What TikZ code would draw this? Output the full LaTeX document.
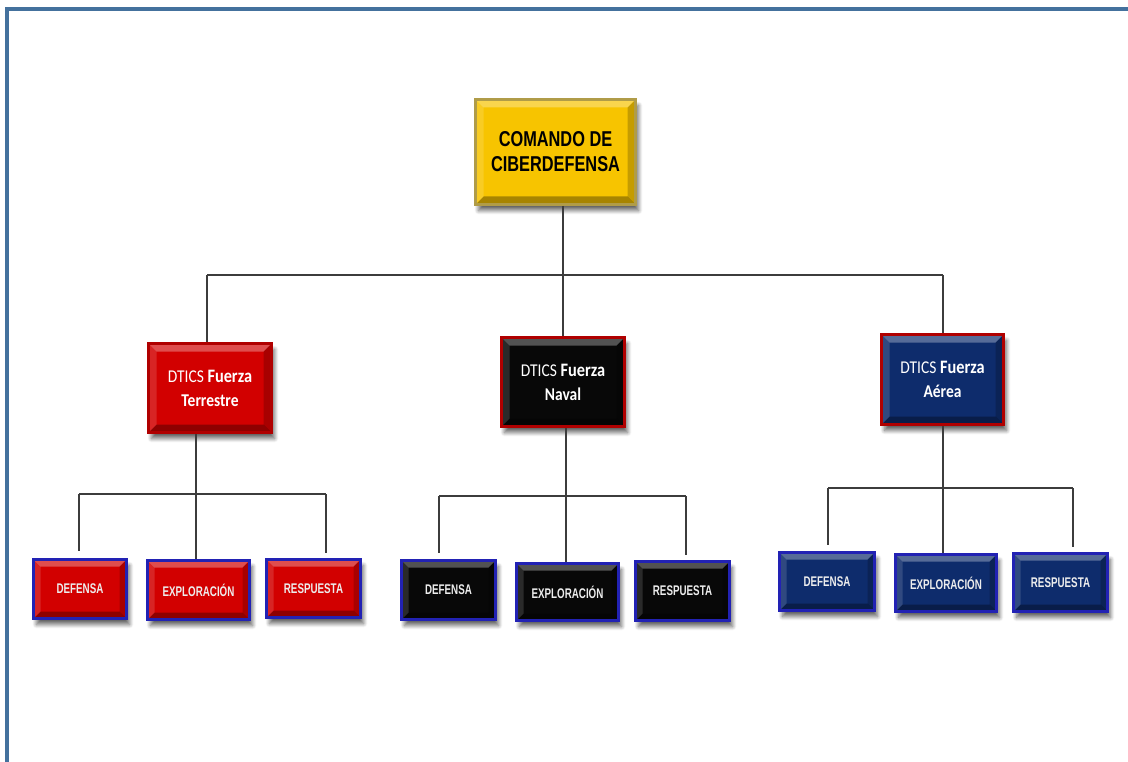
\documentclass[tikz,border=0pt]{standalone}
\usepackage{fontspec}
\usetikzlibrary{shadows,shadows.blur}
\newfontfamily\narrowfont[FakeStretch=0.76]{Liberation Sans}
\newfontfamily\childfont[FakeStretch=0.70]{Liberation Sans}
\newfontfamily\calfont[FakeStretch=0.86]{Carlito}
\definecolor{frameblue}{HTML}{44719D}
\definecolor{goldfill}{HTML}{F7C400}
\definecolor{goldedge}{HTML}{B09C48}
\definecolor{redfill}{HTML}{D20000}
\definecolor{rededge}{HTML}{B00000}
\definecolor{navyfill}{HTML}{0E2C6C}
\definecolor{blackfill}{HTML}{080808}
\definecolor{blueedge}{HTML}{2222B4}
\definecolor{linegray}{HTML}{3C3C3C}
\definecolor{txtlight}{HTML}{EDEDED}
\tikzset{
  bevel/.style={path picture={
    \fill[white,opacity=.30] (path picture bounding box.north west) -- (path picture bounding box.north east)
      -- ([shift={(-#1,-#1)}]path picture bounding box.north east) -- ([shift={(#1,-#1)}]path picture bounding box.north west) -- cycle;
    \fill[black,opacity=.32] (path picture bounding box.south west) -- (path picture bounding box.south east)
      -- ([shift={(-#1,#1)}]path picture bounding box.south east) -- ([shift={(#1,#1)}]path picture bounding box.south west) -- cycle;
    \fill[white,opacity=.14] (path picture bounding box.north west) -- (path picture bounding box.south west)
      -- ([shift={(#1,#1)}]path picture bounding box.south west) -- ([shift={(#1,-#1)}]path picture bounding box.north west) -- cycle;
    \fill[black,opacity=.20] (path picture bounding box.north east) -- (path picture bounding box.south east)
      -- ([shift={(-#1,#1)}]path picture bounding box.south east) -- ([shift={(-#1,-#1)}]path picture bounding box.north east) -- cycle;
  }},
  box/.style={rectangle, inner sep=0pt, align=center, line width=3pt,
    blur shadow={shadow xshift=3pt, shadow yshift=-6pt, shadow blur steps=8, shadow blur radius=4pt, shadow opacity=60}},
  topbox/.style={box, fill=goldfill, draw=goldedge, bevel=8pt, text=black,
    minimum width=160pt, minimum height=105pt,
    font=\narrowfont\bfseries\fontsize{21.5}{25}\selectfont},
  parentbox/.style={box, draw=rededge, bevel=8pt, text=white,
    minimum width=123pt, minimum height=89pt, font=\calfont\fontsize{18}{24}\selectfont},
  childbox/.style={box, draw=blueedge, bevel=7pt, text=txtlight,
    minimum height=59pt, font=\childfont\bfseries\fontsize{14}{15}\selectfont},
  conn/.style={draw=linegray, line width=1.1pt}
}
\begin{document}
\begin{tikzpicture}[x=1pt,y=-1pt]
\useasboundingbox (0,0) rectangle (1128,762);
% page frame
\fill[frameblue] (5,7) rectangle (1128,11.5);
\fill[frameblue] (5,7) rectangle (8.5,762);

% top
\node[topbox] (top) at (555.5,152) {COMANDO DE\\CIBERDEFENSA};

% parents
\node[parentbox, fill=redfill] (ter) at (210,388) {DTICS {\bfseries\fontsize{19}{24}\selectfont Fuerza}\\{\bfseries Terrestre}};
\node[parentbox, fill=blackfill] (nav) at (563,382) {DTICS {\bfseries\fontsize{19}{24}\selectfont Fuerza}\\{\bfseries Naval}};
\node[parentbox, fill=navyfill, minimum width=122pt, minimum height=90pt] (aer) at (942.5,379.5) {DTICS {\bfseries\fontsize{19}{24}\selectfont Fuerza}\\{\bfseries Aérea}};

% children red
\node[childbox, fill=redfill, minimum width=93pt] (rdef) at (80,589) {DEFENSA};
\node[childbox, fill=redfill, minimum width=102pt] (rexp) at (198.5,590) {EXPLORACIÓN};
\node[childbox, fill=redfill, minimum width=94pt, minimum height=58pt] (rres) at (313.5,588.5) {RESPUESTA};
% children black
\node[childbox, fill=blackfill, minimum width=94pt] (bdef) at (448.5,590) {DEFENSA};
\node[childbox, fill=blackfill, minimum width=102pt, minimum height=57pt] (bexp) at (567.5,592) {EXPLORACIÓN};
\node[childbox, fill=blackfill, minimum width=94pt] (bres) at (682.5,591) {RESPUESTA};
% children blue
\node[childbox, fill=navyfill, minimum width=95pt, minimum height=58pt] (udef) at (827,581.5) {DEFENSA};
\node[childbox, fill=navyfill, minimum width=101pt, minimum height=57pt] (uexp) at (946,583) {EXPLORACIÓN};
\node[childbox, fill=navyfill, minimum width=94pt, minimum height=58pt] (ures) at (1060.5,582.5) {RESPUESTA};

% bar coordinates
\coordinate (barL) at (207,275);
\coordinate (barR) at (943,275);
\coordinate (rv) at (196,0);
\coordinate (bv) at (566,0);
\coordinate (uv) at (943,0);
\coordinate (rbL) at (79,494);
\coordinate (rbR) at (326,494);
\coordinate (bbL) at (439,496);
\coordinate (bbR) at (686,496);
\coordinate (ubL) at (828,488);
\coordinate (ubR) at (1073,488);
\coordinate (rdefEnd) at (79,551);
\coordinate (rresEnd) at (326,553);
\coordinate (bdefEnd) at (439,553);
\coordinate (bresEnd) at (686,555);
\coordinate (udefEnd) at (828,545);
\coordinate (uresEnd) at (1073,547);

% top level connectors
\draw[conn] (barL) -- (barR);
\draw[conn] (top.south -| nav.north) -- (nav.north |- barL);
\draw[conn] (nav.north |- barL) -- (nav.north);
\draw[conn] (barL) -- (barL |- ter.north);
\draw[conn] (barR) -- (barR |- aer.north);

% red group
\draw[conn] (ter.south -| rv) -- (rexp.north -| rv);
\draw[conn] (rbL) -- (rbR);
\draw[conn] (rbL) -- (rdefEnd);
\draw[conn] (rbR) -- (rresEnd);

% black group
\draw[conn] (nav.south -| bv) -- (bexp.north -| bv);
\draw[conn] (bbL) -- (bbR);
\draw[conn] (bbL) -- (bdefEnd);
\draw[conn] (bbR) -- (bresEnd);

% blue group
\draw[conn] (aer.south -| uv) -- (uexp.north -| uv);
\draw[conn] (ubL) -- (ubR);
\draw[conn] (ubL) -- (udefEnd);
\draw[conn] (ubR) -- (uresEnd);
\end{tikzpicture}
\end{document}
